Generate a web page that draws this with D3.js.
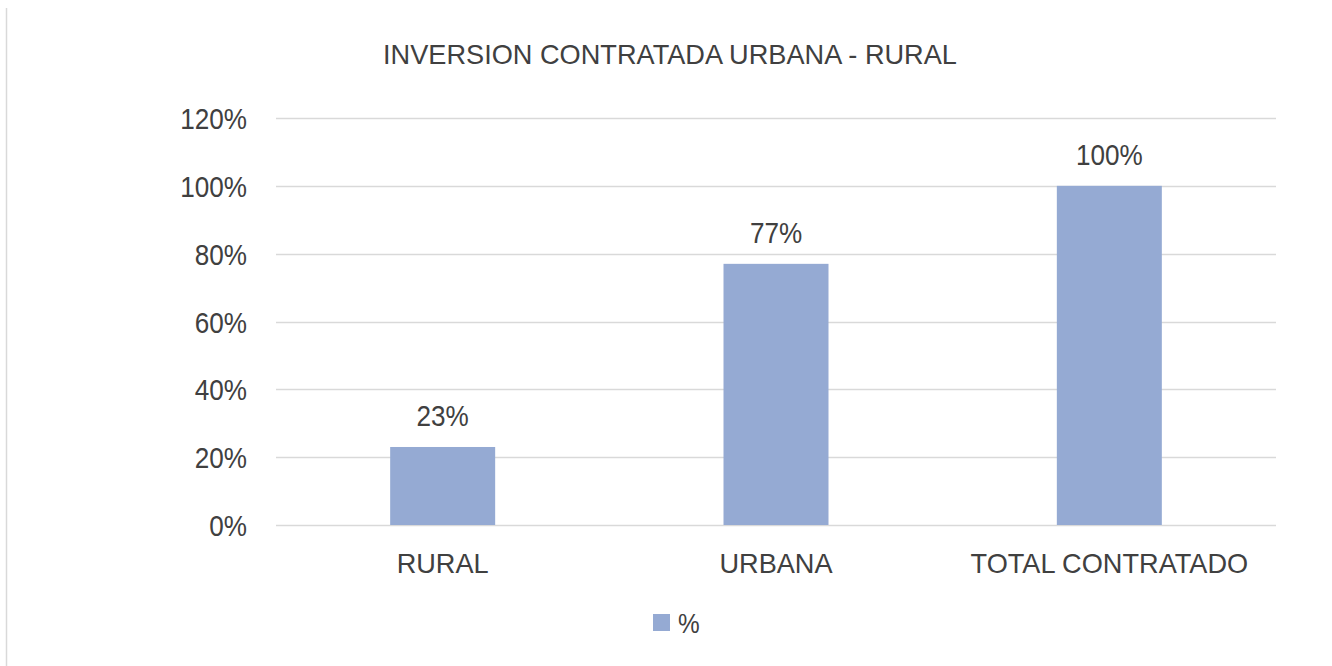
<!DOCTYPE html>
<html>
<head>
<meta charset="utf-8">
<script src="https://cdn.jsdelivr.net/npm/d3@7"></script>
<style>
  body { margin: 0; background: #fff; }
  svg text { font-family: 'Liberation Sans', Arial, sans-serif; fill: #404040; }
</style>
</head>
<body>
<svg id="chart"></svg>
<script>
// chart data
var categories = ['RURAL', 'URBANA', 'TOTAL CONTRATADO'];
var values = [0.23, 0.77, 1.00];
var yTicks = [0, 0.2, 0.4, 0.6, 0.8, 1.0, 1.2];
var seriesName = '%';
var title = 'INVERSION CONTRATADA URBANA - RURAL';

var width = 1332, height = 666;
var margin = {top: 118, right: 56, bottom: 141, left: 276};
var numSqueeze = 0.87, wordSqueeze = 0.97;   // reference font is a bit narrow
var pct = d3.format('.0%');

var svg = d3.select('#chart').attr('width', width).attr('height', height);

// place text with a horizontal squeeze
function place(sel, fx, fy, sx) {
    sel.attr('transform', (d, i) => `translate(${fx(d, i)},${fy(d, i)}) scale(${sx},1)`);
}

// left border of the chart frame
svg.append('line')
   .attr('x1', 6.5).attr('x2', 6.5)
   .attr('y1', 8).attr('y2', height)
   .attr('stroke', '#d9d9d9').attr('stroke-width', 1.5);

var x = d3.scaleBand()
    .domain(categories)
    .range([margin.left, width - margin.right])
    .paddingInner(0.685)
    .paddingOuter(0.3425);

var y = d3.scaleLinear()
    .domain([0, 1.2])
    .range([height - margin.bottom, margin.top]);

// gridlines
svg.append('g')
  .selectAll('line')
  .data(yTicks)
  .enter().append('line')
    .attr('x1', margin.left).attr('x2', width - margin.right)
    .attr('y1', d => Math.round(y(d)) + 0.5)
    .attr('y2', d => Math.round(y(d)) + 0.5)
    .attr('stroke', '#d9d9d9').attr('stroke-width', 1.5);

// y tick labels
svg.append('g')
  .selectAll('text')
  .data(yTicks)
  .enter().append('text')
    .attr('text-anchor', 'end')
    .style('font-size', '30px')
    .text(d => pct(d))
    .call(place, () => margin.left - 29, d => y(d) + 11, numSqueeze);

// bars
svg.append('g')
  .selectAll('rect')
  .data(values)
  .enter().append('rect')
    .attr('x', (d, i) => x(categories[i]))
    .attr('width', x.bandwidth())
    .attr('y', d => y(d))
    .attr('height', d => y(0) - y(d))
    .attr('fill', '#95aad3');

// data labels
svg.append('g')
  .selectAll('text')
  .data(values)
  .enter().append('text')
    .attr('text-anchor', 'middle')
    .style('font-size', '30px')
    .text(d => pct(d))
    .call(place, (d, i) => x(categories[i]) + x.bandwidth() / 2, d => y(d) - 21, numSqueeze);

// category labels
svg.append('g')
  .selectAll('text')
  .data(categories)
  .enter().append('text')
    .attr('text-anchor', 'middle')
    .style('font-size', '28px')
    .text(d => d)
    .call(place, d => x(d) + x.bandwidth() / 2, () => 573, wordSqueeze);

// title
svg.append('text')
   .datum(title)
   .attr('text-anchor', 'middle')
   .style('font-size', '28px')
   .text(d => d)
   .call(place, () => 670, () => 64, wordSqueeze);

// legend
var legend = svg.append('g');
legend.append('rect')
   .attr('x', 653).attr('y', 614)
   .attr('width', 17).attr('height', 17)
   .attr('fill', '#95aad3');
legend.append('text')
   .datum(seriesName)
   .style('font-size', '28px')
   .text(d => d)
   .call(place, () => 678, () => 633, numSqueeze);
</script>
</body>
</html>
